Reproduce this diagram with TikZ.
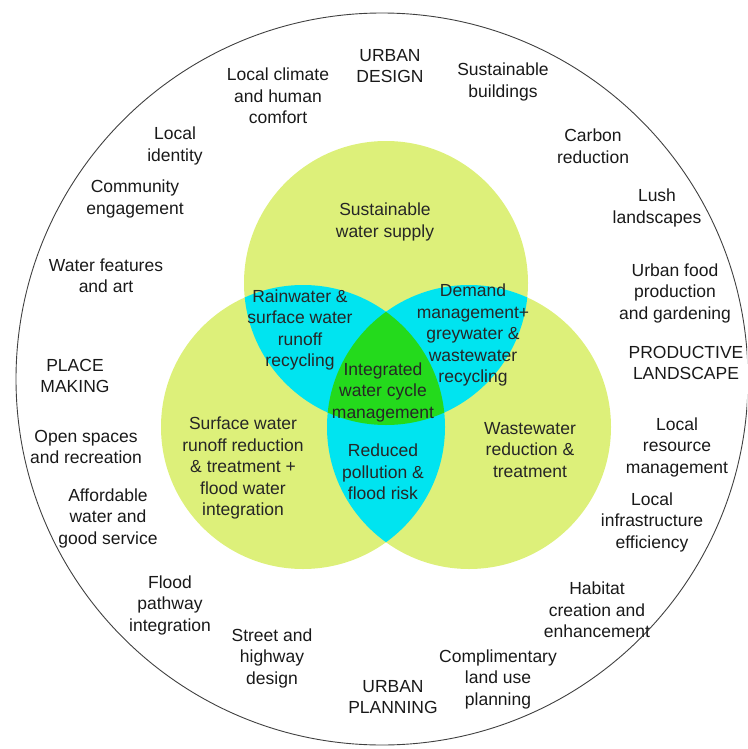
\documentclass[tikz,border=0pt]{standalone}
\usepackage{fontspec}
\setmainfont{Liberation Sans}
\usetikzlibrary{positioning}
\definecolor{wclime}{RGB}{221,240,122}
\definecolor{wccyan}{RGB}{0,228,240}
\definecolor{wcgreen}{RGB}{36,218,28}

\begin{document}
\begin{tikzpicture}[x=1pt,y=-1pt,font=\fontsize{17.5}{21.5}\selectfont,
    every node/.style={align=center,inner sep=0pt},
    theme/.style={text=black!90},
    water/.style={text=black!85}]
  \useasboundingbox (0,0) rectangle (747,749);
  \clip (0,0) rectangle (747,749);
  % venn circles
  \coordinate (supply) at (386,283);
  \coordinate (runoff) at (303,427);
  \coordinate (waste) at (469,427);
  \fill[wclime] (supply) circle (142pt);
  \fill[wclime] (runoff) circle (142pt);
  \fill[wclime] (waste) circle (142pt);
  \begin{scope}
    \clip (supply) circle (142pt);
    \fill[wccyan] (runoff) circle (142pt);
    \fill[wccyan] (waste) circle (142pt);
  \end{scope}
  \begin{scope}
    \clip (runoff) circle (142pt);
    \fill[wccyan] (waste) circle (142pt);
  \end{scope}
  \begin{scope}
    \clip (supply) circle (142pt);
    \clip (runoff) circle (142pt);
    \fill[wcgreen] (waste) circle (142pt);
  \end{scope}
  % outer ring
  \draw[line width=0.9pt,black!75] (382,379) ellipse [x radius=366pt,y radius=366pt];

  \node[water] (wsupply) at (385,222) {Sustainable\\water supply};
  \node[water] (rain) at (300,330) {Rainwater \&\\surface water\\runoff\\recycling};
  \node[water] (demand) at (473,335) {Demand\\management+\\greywater \&\\wastewater\\recycling};
  \node[water] (iwcm) at (383,392) {Integrated\\water cycle\\management};
  \node[water] (pollution) at (383,472) {Reduced\\pollution \&\\flood risk};
  \node[water] (surface) at (243,468) {Surface water\\runoff reduction\\\& treatment +\\flood water\\integration};
  \node[water] (wwater) at (530,450) {Wastewater\\reduction \&\\treatment};

  \node[theme] (design) at (390,66) {URBAN\\DESIGN};
  \node[theme] (climate) at (278,96) {Local climate\\and human\\comfort};
  \node[theme] (buildings) at (503,82) {Sustainable\\buildings};
  \node[theme] (identity) at (175,146) {Local\\identity};
  \node[theme] (carbon) at (593,146) {Carbon\\reduction};
  \node[theme] (community) at (135,199) {Community\\engagement};
  \node[theme] (lush) at (657,208) {Lush\\landscapes};
  \node[theme] (features) at (106,276) {Water features\\and art};
  \node[theme] (food) at (675,293) {Urban food\\production\\and gardening};
  \node[theme] (place) at (75,376) {PLACE\\MAKING};
  \node[theme] (productive) at (686,363) {PRODUCTIVE\\LANDSCAPE};
  \node[theme] (open) at (86,447) {Open spaces\\and recreation};
  \node[theme] (resource) at (677,447) {Local\\resource\\management};
  \node[theme] (afford) at (108,518) {Affordable\\water and\\good service};
  \node[theme] (infra) at (652,522) {Local\\infrastructure\\efficiency};
  \node[theme] (pathway) at (170,605) {Flood\\pathway\\integration};
  \node[theme] (habitat) at (597,610) {Habitat\\creation and\\enhancement};
  \node[theme] (street) at (272,658) {Street and\\highway\\design};
  \node[theme] (landuse) at (498,679) {Complimentary\\land use\\planning};
  \node[theme] (planning) at (393,697) {URBAN\\PLANNING};
\end{tikzpicture}
\end{document}
